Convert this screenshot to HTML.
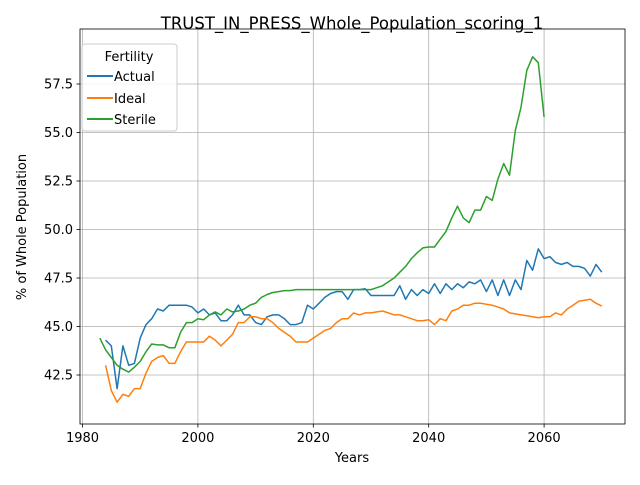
<!DOCTYPE html>
<html><head><meta charset="utf-8"><style>
body{margin:0;background:#fff;}
svg text{font-family:"DejaVu Sans","Liberation Sans",sans-serif;fill:#000;}
</style></head><body>
<svg id="chart" width="640" height="480" viewBox="0 0 640 480" xmlns="http://www.w3.org/2000/svg">
<text x="352" y="29" font-size="16.5" text-anchor="middle">TRUST_IN_PRESS_Whole_Population_scoring_1</text>
<g id="grid"></g>
<g id="series"></g>
<rect x="80" y="29" width="545" height="395" fill="none" stroke="#000" stroke-width="0.8"/>
<g id="ticks"></g>
<text x="352" y="462" font-size="13" text-anchor="middle">Years</text>
<text transform="translate(26,227) rotate(-90)" font-size="13" text-anchor="middle">% of Whole Population</text>
<g>
<rect x="82" y="44" width="95" height="87" rx="3" fill="#fff" fill-opacity="0.8" stroke="#ccc"/>
<text x="129" y="61" font-size="13" text-anchor="middle">Fertility</text>
<g><line x1="87" y1="76" x2="113" y2="76" stroke="#1f77b4" stroke-width="2"/><text x="114" y="81" font-size="13">Actual</text></g>
<g><line x1="87" y1="98" x2="113" y2="98" stroke="#ff7f0e" stroke-width="2"/><text x="114" y="103" font-size="13">Ideal</text></g>
<g><line x1="87" y1="119" x2="113" y2="119" stroke="#2ca02c" stroke-width="2"/><text x="114" y="124" font-size="13">Sterile</text></g>
</g>
</svg>
<script>
const xTicks=[1980,2000,2020,2040,2060];
const yTicks=[42.5,45.0,47.5,50.0,52.5,55.0,57.5];
const actualStart=1984;
const actualValues=[44.3,44.0,41.8,44.0,43.0,43.1,44.4,45.1,45.4,45.9,45.8,46.1,46.1,46.1,46.1,46.0,45.7,45.9,45.6,45.7,45.3,45.3,45.6,46.1,45.6,45.6,45.2,45.1,45.5,45.6,45.6,45.4,45.1,45.1,45.2,46.1,45.9,46.2,46.5,46.7,46.8,46.8,46.4,46.9,46.9,46.95,46.6,46.6,46.6,46.6,46.6,47.1,46.4,46.9,46.6,46.9,46.7,47.2,46.7,47.2,46.9,47.2,47.0,47.3,47.2,47.4,46.8,47.4,46.6,47.4,46.6,47.4,46.9,48.4,47.9,49.0,48.5,48.6,48.3,48.2,48.3,48.1,48.1,48.0,47.6,48.2,47.8];
const idealStart=1984;
const idealValues=[43.0,41.7,41.1,41.5,41.4,41.8,41.8,42.6,43.2,43.4,43.5,43.1,43.1,43.7,44.2,44.2,44.2,44.2,44.5,44.3,44.0,44.3,44.6,45.2,45.2,45.5,45.5,45.4,45.4,45.2,44.9,44.7,44.5,44.2,44.2,44.2,44.4,44.6,44.8,44.9,45.2,45.4,45.4,45.7,45.6,45.7,45.7,45.75,45.8,45.7,45.6,45.6,45.5,45.4,45.3,45.3,45.35,45.1,45.4,45.3,45.8,45.9,46.1,46.1,46.2,46.2,46.15,46.1,46.0,45.9,45.7,45.65,45.6,45.55,45.5,45.45,45.5,45.5,45.7,45.6,45.9,46.1,46.3,46.35,46.4,46.2,46.05];
const sterileStart=1983;
const sterileValues=[44.4,43.8,43.4,43.0,42.8,42.65,42.9,43.2,43.7,44.1,44.05,44.05,43.9,43.9,44.7,45.2,45.2,45.4,45.35,45.6,45.75,45.6,45.9,45.75,45.8,45.9,46.1,46.2,46.5,46.65,46.75,46.8,46.85,46.85,46.9,46.9,46.9,46.9,46.9,46.9,46.9,46.9,46.9,46.9,46.9,46.9,46.9,46.9,47.0,47.1,47.3,47.5,47.8,48.1,48.5,48.8,49.05,49.1,49.1,49.5,49.9,50.6,51.2,50.6,50.35,51.0,51.0,51.7,51.5,52.6,53.4,52.8,55.1,56.3,58.2,58.9,58.6,55.8];

const NS='http://www.w3.org/2000/svg';
const X=y=>82.5+(y-1980)*5.77;
const Y=v=>84+(57.5-v)*19.4;
const grid=document.getElementById('grid'),ticks=document.getElementById('ticks'),series=document.getElementById('series');
function mk(tag,attrs,parent){const e=document.createElementNS(NS,tag);for(const k in attrs)e.setAttribute(k,attrs[k]);parent.appendChild(e);return e;}
xTicks.forEach(t=>{
  const g=mk('line',{x1:X(t),x2:X(t),y1:29,y2:424,stroke:'#b0b0b0','stroke-width':0.8},grid);
  
  
  mk('line',{x1:X(t),x2:X(t),y1:424,y2:427.5,stroke:'#000','stroke-width':0.8},ticks);
  const tx=mk('text',{x:X(t),y:442,'font-size':13,'text-anchor':'middle'},ticks);
  tx.textContent=t;
  
  
});
yTicks.forEach(t=>{
  const g=mk('line',{x1:80,x2:625,y1:Y(t),y2:Y(t),stroke:'#b0b0b0','stroke-width':0.8},grid);
  
  
  mk('line',{x1:76.5,x2:80,y1:Y(t),y2:Y(t),stroke:'#000','stroke-width':0.8},ticks);
  const tx=mk('text',{x:73,y:Y(t)+4.5,'font-size':13,'text-anchor':'end'},ticks);
  tx.textContent=t.toFixed(1);
  
  
});
function line(start,vals,color,name){
  const pts=vals.map((v,i)=>X(start+i).toFixed(1)+','+Y(v).toFixed(1)).join(' ');
  const p=mk('polyline',{points:pts,fill:'none',stroke:color,'stroke-width':1.5,'stroke-linejoin':'round'},series);
  
  
}
line(actualStart,actualValues,'#1f77b4','actual-line');
line(idealStart,idealValues,'#ff7f0e','ideal-line');
line(sterileStart,sterileValues,'#2ca02c','sterile-line');
</script>
</body></html>
